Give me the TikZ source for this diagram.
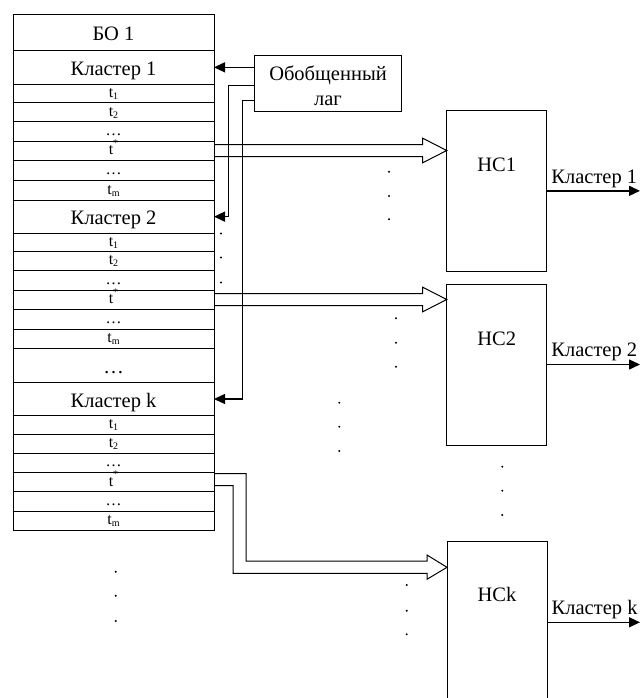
\documentclass[tikz,border=0pt]{standalone}
\usepackage{fontspec}
\setmainfont{Liberation Serif}
\usetikzlibrary{arrows.meta,calc}
\newcommand{\tsub}[1]{t\raisebox{-2pt}{\fontsize{10}{10}\selectfont #1}}
\newcommand{\tstar}{t\raisebox{8.5pt}{\fontsize{10}{10}\selectfont *}}
\begin{document}
\begin{tikzpicture}[x=1pt,y=-1pt,
  rowbox/.style={draw, line width=0.9pt, rectangle, minimum width=201pt, inner sep=0pt, outer sep=0pt, anchor=north west},
  trow/.style={rowbox, font=\fontsize{16}{16}\selectfont, text height=10pt, text depth=2pt},
  brow/.style={rowbox, font=\fontsize{20.5}{20.5}\selectfont, text height=18pt, text depth=2pt},
  bigtext/.style={font=\fontsize{20.5}{25}\selectfont, inner sep=0pt},
  hcbox/.style={draw, line width=0.9pt, rectangle, minimum width=100pt, inner sep=0pt, outer sep=0pt, anchor=north west},
  arr/.style={line width=1.4pt, -{Triangle[length=11pt,width=10pt]}},
  hollow/.style={line width=1pt, line join=miter},
  dot/.style={radius=1.1pt}
]
\useasboundingbox (0,0) rectangle (640,698);
\clip (0,0) rectangle (640,698);

% column
\node[brow, minimum height=36.7pt] (r1) at (13,14) {БО 1};
\node[brow, minimum height=33.3pt] (r2) at (13,50.7) {Кластер 1};
\node[trow, minimum height=18.7pt] (r3) at (13,84) {\tsub{1}};
\node[trow, minimum height=19pt] (r4) at (13,102.7) {\tsub{2}};
\node[trow, minimum height=19.3pt] (r5) at (13,121.7) {…};
\node[trow, minimum height=19pt] (r6) at (13,141) {\tstar};
\node[trow, minimum height=20pt] (r7) at (13,160) {…};
\node[trow, minimum height=20pt] (r8) at (13,180) {\tsub{m}};
\node[brow, minimum height=33.3pt] (r9) at (13,200) {Кластер 2};
\node[trow, minimum height=17.7pt] (r10) at (13,233.3) {\tsub{1}};
\node[trow, minimum height=19.7pt] (r11) at (13,251) {\tsub{2}};
\node[trow, minimum height=19.3pt] (r12) at (13,270.7) {…};
\node[trow, minimum height=19pt] (r13) at (13,290) {\tstar};
\node[trow, minimum height=20pt] (r14) at (13,309) {…};
\node[trow, minimum height=19.3pt] (r15) at (13,329) {\tsub{m}};
\node[brow, minimum height=34pt] (r16) at (13,348.3) {…};
\node[brow, minimum height=33.4pt] (r17) at (13,382.3) {Кластер k};
\node[trow, minimum height=18.3pt] (r18) at (13,415.7) {\tsub{1}};
\node[trow, minimum height=19.3pt] (r19) at (13,434) {\tsub{2}};
\node[trow, minimum height=19pt] (r20) at (13,453.3) {…};
\node[trow, minimum height=19.4pt] (r21) at (13,472.3) {\tstar};
\node[trow, minimum height=19.3pt] (r22) at (13,491.7) {…};
\node[trow, minimum height=19.7pt] (r23) at (13,511) {\tsub{m}};

% lag box
\node[draw, line width=0.9pt, rectangle, minimum width=147.7pt, minimum height=56.7pt, inner sep=0pt, outer sep=0pt, anchor=north west] (lag) at (254,55) {};
\node[bigtext, align=center] (lagtext) at (328,86) {Обобщенный\\лаг};

% lag connectors
\draw[arr] (lag.west |- r2.east) -- (r2.east);
\draw[arr] ($(lag.west)+(0,2.4)$) -| ($(r9.east)+(14.3,0)$) -- (r9.east);
\draw[arr] ($(lag.west)+(0,17.4)$) -| ($(r17.east)+(28.3,0)$) -- (r17.east);

% HC boxes
\node[hcbox, minimum height=161.7pt] (hc1) at (446.7,110) {};
\node[hcbox, minimum height=161pt] (hc2) at (446.7,284) {};
\node[hcbox, minimum height=175pt] (hck) at (447,541.7) {};
\node[bigtext, anchor=base] (hc1t) at ($(hc1.north)+(0,61.5)$) {НС1};
\node[bigtext, anchor=base] (hc2t) at ($(hc2.north)+(0,61)$) {НС2};
\node[bigtext, anchor=base] (hckt) at ($(hck.north)+(0,60)$) {НСk};

% hollow arrows
\coordinate (tip1) at (hc1.west |- r6.east);
\coordinate (tip2) at (hc2.west |- r13.east);
\coordinate (tipk) at ($(hck.north west)+(0,25.6)$);
\draw[hollow] ($(r6.east)+(0,-6)$) -- ($(tip1)+(-24,-6)$) -- ($(tip1)+(-24,-12.3)$) -- (tip1) -- ($(tip1)+(-24,12.3)$) -- ($(tip1)+(-24,6)$) -- ($(r6.east)+(0,6)$);
\draw[hollow] ($(r13.east)+(0,-6)$) -- ($(tip2)+(-24,-6)$) -- ($(tip2)+(-24,-12.3)$) -- (tip2) -- ($(tip2)+(-24,12.3)$) -- ($(tip2)+(-24,6)$) -- ($(r13.east)+(0,6)$);
\draw[hollow] ($(r21.east)+(0,-8.5)$) -| ($(tipk)+(-201,-6.3)$) -- ($(tipk)+(-20,-6.3)$) -- ($(tipk)+(-20,-12.3)$) -- (tipk) -- ($(tipk)+(-20,12)$) -- ($(tipk)+(-20,6)$) -| ($(r21.east)+(19,3.7)$) -- ($(r21.east)+(0,3.7)$);

% outputs
\coordinate (s1) at (hc1.east);
\coordinate (s2) at (hc2.east);
\coordinate (sk) at ($(hck.north east)+(0,80.6)$);
\coordinate (o1) at (s1 -| 640,0);
\coordinate (o2) at (s2 -| 640,0);
\coordinate (ok) at (sk -| 640,0);
\draw[arr] (s1) -- (o1);
\draw[arr] (s2) -- (o2);
\draw[arr] (sk) -- (ok);
\node[bigtext, anchor=base west] (l1) at ($(s1)+(4.5,-7.5)$) {Кластер 1};
\node[bigtext, anchor=base west] (l2) at ($(s2)+(4.5,-8)$) {Кластер 2};
\node[bigtext, anchor=base west] (lk) at ($(sk)+(4.5,-8)$) {Кластер k};

% dots
\foreach \x/\y in {389/171.7, 389/196, 389/219.3,
                   221/233.5, 221/257.5, 221/282.5,
                   396/318.3, 396/342.7, 396/366.7,
                   339.3/402.7, 339.3/426.7, 339.3/451,
                   502.3/466.7, 502.3/490.7, 502.3/515,
                   406.7/585, 406.7/610.7, 406.7/634.3,
                   115.7/571.7, 115.7/595.7, 115.7/621}
  \fill (\x,\y) circle[dot];
\end{tikzpicture}
\end{document}
